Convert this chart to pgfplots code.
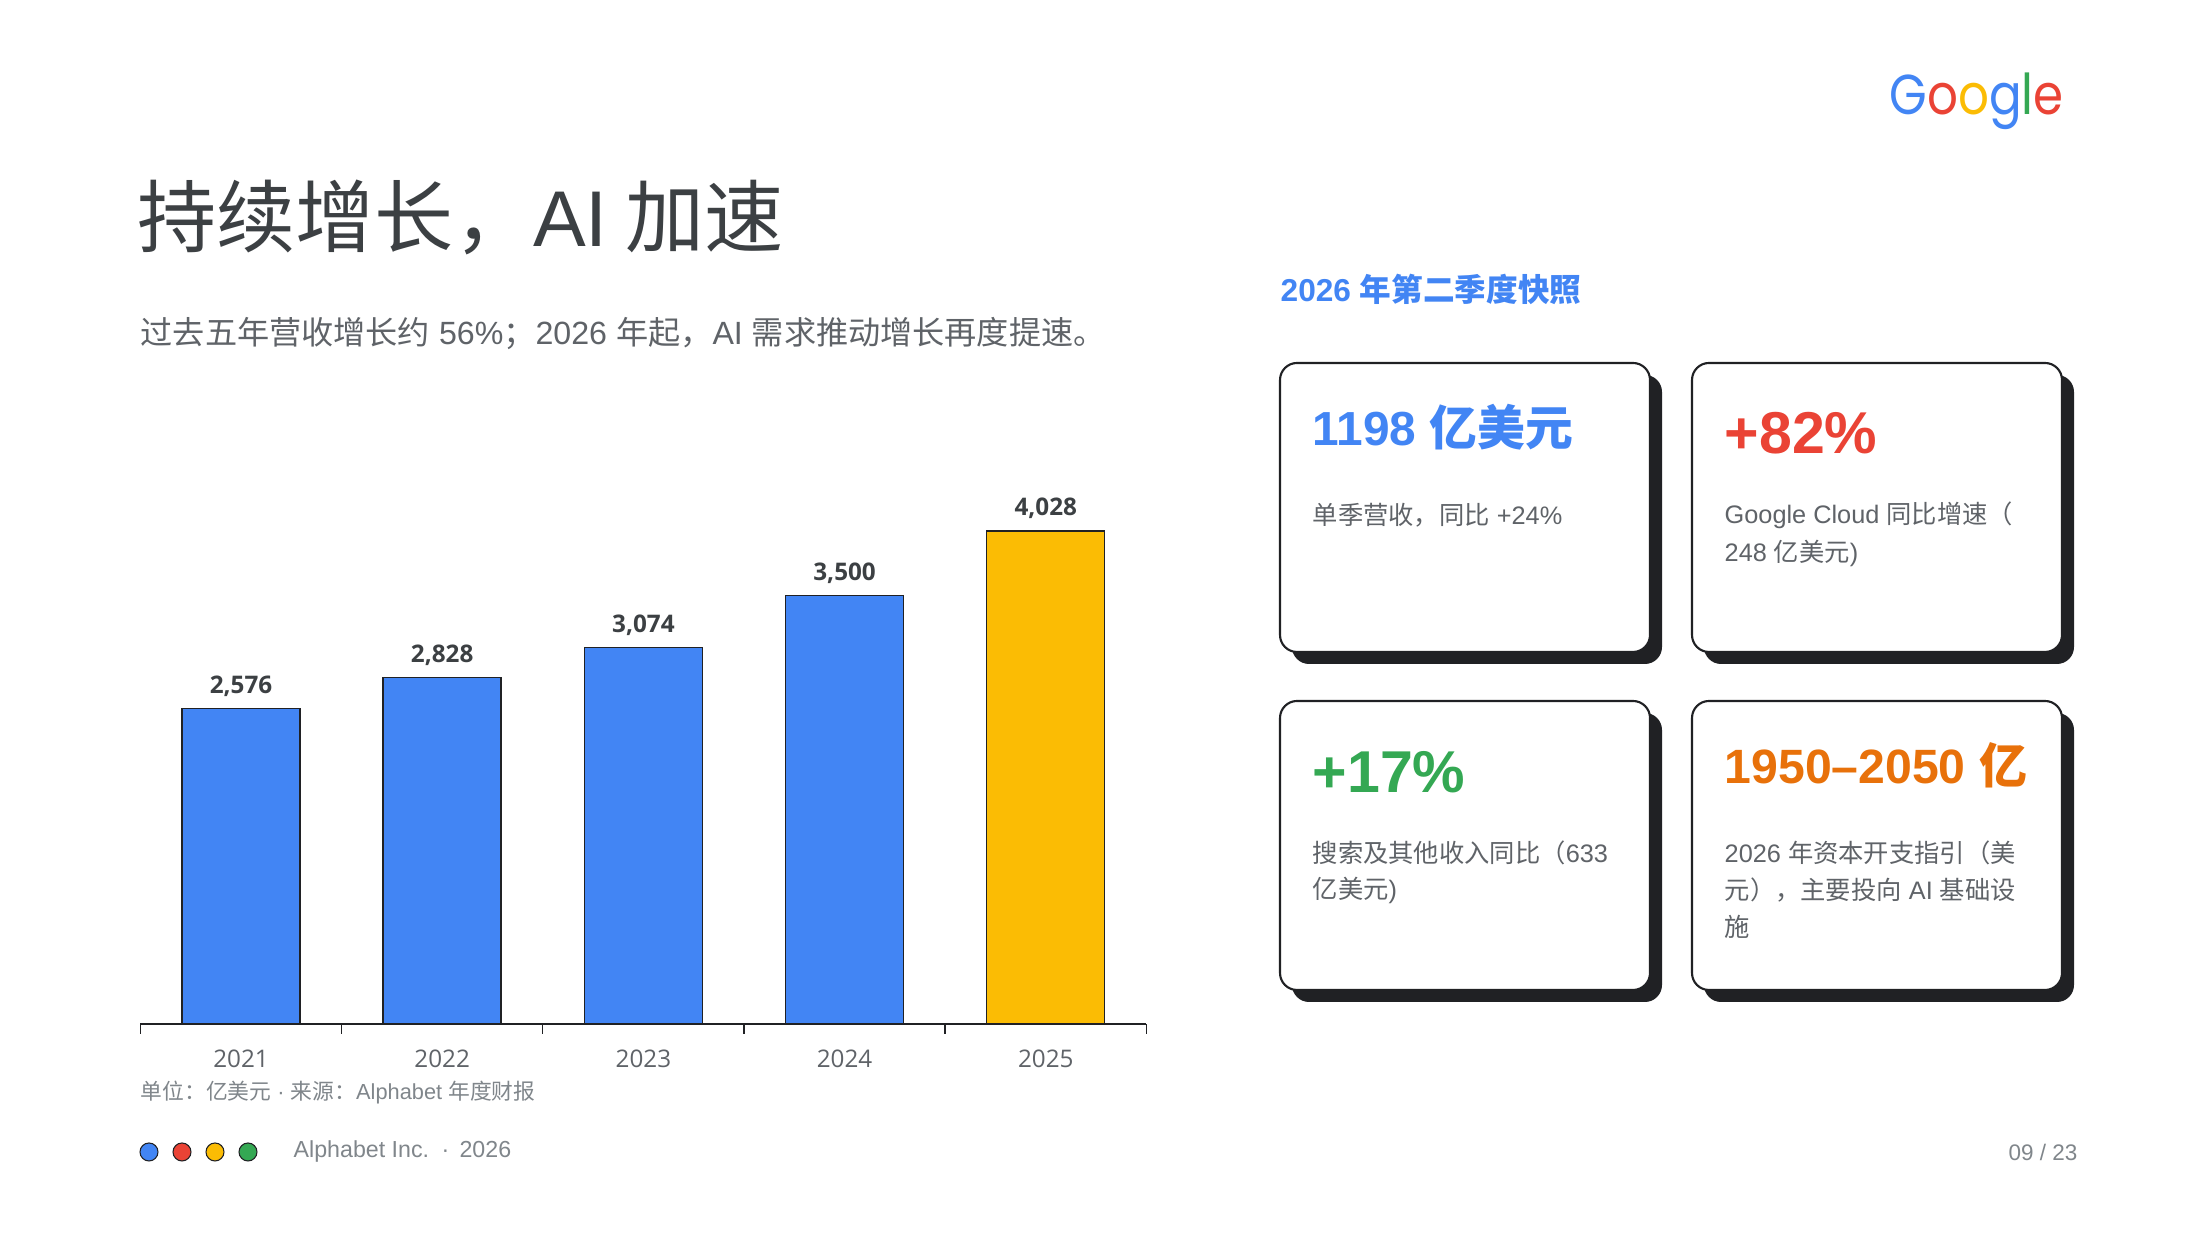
\documentclass[border=0pt]{standalone}
\usepackage{fontspec}
\setmainfont{Noto Sans CJK SC}
\newfontfamily\logofont{Poppins}
\newfontfamily\lat{Liberation Sans}
\newfontfamily\osans{Open Sans}
\usepackage{pgfplots}
\pgfplotsset{compat=1.18}
\definecolor{gblue}{HTML}{4285F4}
\definecolor{gred}{HTML}{EA4335}
\definecolor{gyellow}{HTML}{FBBC04}
\definecolor{ggreen}{HTML}{34A853}
\definecolor{gorange}{HTML}{E8710A}
\definecolor{dark}{HTML}{202124}
\definecolor{tdark}{HTML}{3C4043}
\definecolor{tgray}{HTML}{5F6368}
\definecolor{tlight}{HTML}{80868B}
\newcommand\fs[1]{\fontsize{#1}{#1}\selectfont}
\newcommand\La[1]{{\lat #1}}
\begin{document}
\begin{tikzpicture}[x=0.1mm,y=0.1mm]
\fill[white] (0,0) rectangle (2200,1238);
\path[use as bounding box] (0,0) rectangle (2200,1238);
\tikzset{lt/.style={anchor=west, inner sep=0}}
% Logo
\node[anchor=base west, inner sep=0] at (1889,1123) {\scalebox{0.86}[1]{\logofont\fs{16}\textcolor{gblue}{G}\textcolor{gred}{o}\textcolor{gyellow}{o}\textcolor{gblue}{g}\textcolor{ggreen}{l}\textcolor{gred}{e}}};
% Title and subtitle
\node[lt, text=tdark, font=\fs{22.5}] at (137,1021) {持续增长，\La{AI} 加速};
\node[lt, text=tgray, font=\fs{9.15}] at (140,904) {过去五年营收增长约\La{ 56\%}；\La{2026 }年起，\La{AI }需求推动增长再度提速。};
% Right header
\node[lt, text=gblue, font=\fs{9.0}\bfseries] at (1280,949) {\La{2026 }年第二季度快照};
% Cards
\newcommand\card[4]{%
\fill[dark, rounded corners=1.7mm] (#1+12,#2-12) rectangle (#3+12,#4-12);
\filldraw[fill=white, draw=dark, line width=0.6pt, rounded corners=1.7mm] (#1,#2) rectangle (#3,#4);}
\card{1280}{586}{1650}{875}
\card{1692}{586}{2062}{875}
\card{1280}{248}{1650}{537}
\card{1692}{248}{2062}{537}
\node[lt, text=gblue, font=\fs{13.6}\bfseries] at (1312,811) {\La{1198 }亿美元};
\node[lt, text=tgray, font=\fs{7.2}] at (1312,723) {单季营收，同比\La{ +24\%}};
\node[lt, text=gred, font=\fs{16.8}\bfseries] at (1724,805) {\La{+82\%}};
\node[lt, text=tgray, font=\fs{7.2}] at (1724,723) {\La{Google Cloud }同比增速（};
\node[lt, text=tgray, font=\fs{7.2}] at (1724,685) {\La{248 }亿美元\La{)}};
\node[lt, text=ggreen, font=\fs{16.8}\bfseries] at (1312,466) {\La{+17\%}};
\node[lt, text=tgray, font=\fs{7.2}] at (1312,385) {搜索及其他收入同比（\La{633}};
\node[lt, text=tgray, font=\fs{7.2}] at (1312,348) {亿美元\La{)}};
\node[lt, text=gorange, font=\fs{13.7}\bfseries] at (1724,473) {\La{1950–2050 }亿};
\node[lt, text=tgray, font=\fs{7.2}] at (1724,385) {\La{2026 }年资本开支指引（美};
\node[lt, text=tgray, font=\fs{7.2}] at (1724,348) {元），主要投向\La{ AI }基础设};
\node[lt, text=tgray, font=\fs{7.2}] at (1724,311) {施};
% Chart
\begin{axis}[at={(24.1mm,21.4mm)}, anchor=origin, scale only axis,
  width=100.6mm, height=55.1mm,
  xmin=-0.5, xmax=4.5, ymin=0, ymax=4500,
  axis x line=bottom, axis y line=none,
  x axis line style={-, draw=dark, line width=0.5pt},
  ytick=\empty,
  xtick={0,1,2,3,4}, xticklabels={2021,2022,2023,2024,2025},
  minor xtick={-0.5,0.5,1.5,2.5,3.5,4.5},
  major tick length=0pt, minor tick length=1mm, tick align=outside,
  tick style={draw=dark, line width=0.4pt},
  xticklabel style={font=\osans\fs{6.9}, text=tgray, yshift=-1.4mm},
  ybar, bar width=11.8mm, bar shift=0pt,
  nodes near coords,
  nodes near coords style={font=\osans\fs{6.9}\bfseries, text=tdark, yshift=-0.05mm},
  /pgf/number format/.cd, 1000 sep={,}, assume math mode=true,
  /pgfplots/.cd, clip=false]
\addplot[fill=gblue, draw=dark, line width=0.4pt] coordinates {(0,2576) (1,2828) (2,3074) (3,3500)};
\addplot[fill=gyellow, draw=dark, line width=0.4pt] coordinates {(4,4028)};
\end{axis}
% Source note and footer
\node[lt, text=tlight, font=\fs{6.2}] at (140,145) {单位：亿美元\La{ · }来源：\La{Alphabet }年度财报};
\foreach \xx/\cc in {149/gblue,182/gred,215/gyellow,248/ggreen}
  \filldraw[fill=\cc, draw=dark, line width=0.3pt] (\xx,86) circle (0.9mm);
\node[lt, text=tlight, font=\lat\fs{6.6}] at (293,86) {Alphabet Inc. \,·\, 2026};
\node[anchor=east, inner sep=0, text=tlight, font=\lat\fs{6.4}] at (2078,86) {09 / 23};
\end{tikzpicture}
\end{document}
